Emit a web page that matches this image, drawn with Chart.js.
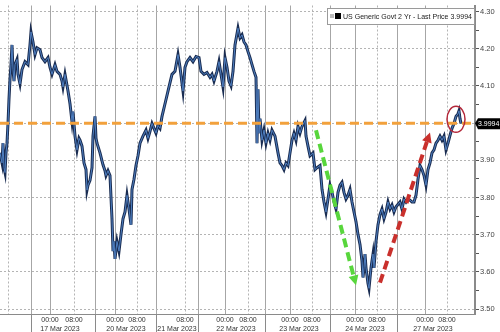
<!DOCTYPE html>
<html>
<head>
<meta charset="utf-8">
<script src="https://cdn.jsdelivr.net/npm/chart.js@4/dist/chart.umd.min.js"></script>
<style>
  html, body { margin: 0; padding: 0; background: #fff; }
</style>
</head>
<body>
<canvas id="chart" width="500" height="332"></canvas>
<script>
// 20-minute bars counted from 17 Mar 2023 00:00 (trading timeline)
const barIdx = [
  -50, -48, -47, -46, -45, -44, -43, -42, -41, -40, -39, -38, -37, -36, -35, -33, -32, -30, -28, -25,
  -22, -20, -19, -17, -15, -13, -10, -8, -5, -2, 0, 2, 5, 7, 10, 12, 13, 15, 18, 20,
  22, 23, 25, 27, 29, 30, 32, 34, 36, 37, 38, 40, 42, 43, 45, 46, 47, 50, 53, 55,
  56, 58, 60, 62, 63, 64, 65, 67, 69, 71, 73, 75, 77, 79, 81, 82, 84, 86, 88, 90,
  93, 96, 98, 100, 102, 104, 106, 108, 110, 112, 115, 118, 122, 125, 128, 130, 133, 135, 137, 140,
  143, 146, 149, 151, 154, 157, 160, 162, 164, 167, 169, 171, 173, 175, 177, 179, 181, 183, 185, 188,
  190, 192, 194, 196, 198, 200, 202, 204, 206, 207, 208, 209, 210, 212, 214, 216, 218, 220, 222, 225,
  228, 230, 232, 234, 236, 238, 240, 242, 244, 246, 248, 250, 252, 255, 256, 258, 260, 263, 265, 267,
  270, 272, 274, 276, 278, 280, 282, 284, 286, 288, 290, 292, 294, 296, 298, 300, 302, 304, 306, 308,
  310, 312, 313, 314, 315, 316, 318, 319, 321, 323, 324, 326, 328, 330, 332, 334, 336, 338, 340, 342,
  344, 346, 350, 352, 354, 356, 358, 360, 362, 364, 366, 368, 370, 372, 374, 376, 378, 380, 382, 384,
  386, 388, 390, 392, 394, 396, 398, 400, 402, 404, 406, 408, 409, 410, 411
];
const yields = [
  3.920, 3.893, 3.946, 3.880, 3.867, 3.920, 3.946, 3.999, 4.065, 4.118, 4.157, 4.210, 4.144, 4.113, 4.157, 4.171, 4.131, 4.105, 4.144, 4.165,
  4.157, 4.210, 4.245, 4.218, 4.184, 4.202, 4.197, 4.176, 4.165, 4.176, 4.150, 4.131, 4.157, 4.139, 4.131, 4.113, 4.097, 4.131, 4.086, 4.052,
  4.004, 4.031, 3.965, 3.928, 3.959, 3.954, 3.938, 3.893, 3.875, 3.820, 3.833, 3.846, 3.880, 3.965, 4.018, 3.959, 3.946, 3.920, 3.888, 3.872,
  3.859, 3.872, 3.859, 3.743, 3.656, 3.682, 3.635, 3.682, 3.656, 3.701, 3.743, 3.761, 3.806, 3.769, 3.727, 3.822, 3.849, 3.886, 3.912, 3.946,
  3.965, 3.981, 3.959, 3.978, 3.999, 3.986, 3.973, 3.994, 3.986, 4.018, 4.052, 4.086, 4.131, 4.139, 4.184, 4.150, 4.086, 4.150, 4.165, 4.176,
  4.165, 4.179, 4.176, 4.139, 4.131, 4.136, 4.123, 4.131, 4.113, 4.139, 4.165, 4.131, 4.097, 4.176, 4.150, 4.113, 4.100, 4.139, 4.210, 4.255,
  4.229, 4.237, 4.218, 4.210, 4.192, 4.176, 4.157, 4.139, 4.123, 3.946, 4.091, 3.973, 4.012, 3.954, 3.981, 3.946, 3.973, 3.954, 3.981, 3.965,
  3.920, 3.893, 3.886, 3.875, 3.893, 3.886, 3.920, 3.954, 3.973, 3.954, 3.991, 3.973, 3.991, 4.007, 3.965, 3.938, 3.912, 3.920, 3.875, 3.880,
  3.886, 3.822, 3.788, 3.761, 3.796, 3.833, 3.814, 3.788, 3.769, 3.814, 3.833, 3.841, 3.814, 3.796, 3.806, 3.822, 3.788, 3.761, 3.735, 3.701,
  3.674, 3.629, 3.585, 3.611, 3.648, 3.611, 3.569, 3.556, 3.611, 3.648, 3.611, 3.682, 3.727, 3.754, 3.769, 3.743, 3.761, 3.788, 3.769, 3.780,
  3.761, 3.775, 3.788, 3.769, 3.796, 3.788, 3.796, 3.793, 3.788, 3.788, 3.806, 3.849, 3.886, 3.875, 3.859, 3.833, 3.875, 3.893, 3.920, 3.928,
  3.946, 3.954, 3.965, 3.954, 3.965, 3.928, 3.946, 3.967, 3.986, 3.999, 4.018, 4.025, 4.033, 4.012, 3.999
];

const lastPrice = 3.9994;
const seriesName = 'US Generic Govt 2 Yr - Last Price 3.9994';

// x axis layout (in bars)
const midnightBars = [0, 65, 175, 240, 305, 375];
const eightBars = [24, 87, 135, 198, 262, 327, 397];
const dottedOnlyBars = [-42];
const sessionBreaks = [-19, 45, 106, 148, 215, 280, 347];
const dayLabelBars = [10, 76, 127, 186, 249, 315, 383];
const dayLabels = ['17 Mar 2023', '20 Mar 2023', '21 Mar 2023', '22 Mar 2023', '23 Mar 2023', '24 Mar 2023', '27 Mar 2023'];

// y axis
const yTicks = [3.50, 3.55, 3.60, 3.65, 3.70, 3.75, 3.80, 3.85, 3.90, 3.95, 4.00, 4.05, 4.10, 4.15, 4.20, 4.25, 4.30];

// annotations: [fromBar, fromYield, toBar, toYield]
const greenArrow = [266, 3.981, 306, 3.564];
const redArrow = [330, 3.571, 380, 3.975];
const circleAt = [406, 4.010];

const isMajor = v => Math.abs(Math.round(v * 10) - v * 10) < 0.01;
const points = barIdx.map((b, i) => ({ x: b, y: yields[i] }));

const notesPlugin = {
  id: 'notes',
  afterDatasetsDraw(chart) {
    const { ctx, scales: { x, y } } = chart;
    [[greenArrow, '#58d63c'], [redArrow, '#c9302c']].forEach(([a, col]) => {
      const x0 = x.getPixelForValue(a[0]), y0 = y.getPixelForValue(a[1]);
      const x1 = x.getPixelForValue(a[2]), y1 = y.getPixelForValue(a[3]);
      const ang = Math.atan2(y1 - y0, x1 - x0);
      const head = 10, half = 5;
      const bx = x1 - head * Math.cos(ang), by = y1 - head * Math.sin(ang);
      ctx.save();
      ctx.strokeStyle = col;
      ctx.fillStyle = col;
      ctx.lineWidth = 4;
      ctx.setLineDash([9, 5]);
      ctx.beginPath();
      ctx.moveTo(x0, y0);
      ctx.lineTo(bx, by);
      ctx.stroke();
      ctx.setLineDash([]);
      ctx.beginPath();
      ctx.moveTo(x1, y1);
      ctx.lineTo(bx + half * Math.sin(ang), by - half * Math.cos(ang));
      ctx.lineTo(bx - half * Math.sin(ang), by + half * Math.cos(ang));
      ctx.closePath();
      ctx.fill();
      ctx.restore();
    });

    // red ring round the last print
    ctx.save();
    ctx.strokeStyle = '#b3283a';
    ctx.lineWidth = 1.5;
    ctx.beginPath();
    ctx.ellipse(x.getPixelForValue(circleAt[0]), y.getPixelForValue(circleAt[1]), 9, 13, 0, 0, Math.PI * 2);
    ctx.stroke();
    ctx.restore();
  },
  afterDraw(chart) {
    const { ctx, chartArea, scales: { x, y } } = chart;
    ctx.save();
    // session separators below the axis
    ctx.strokeStyle = '#8a8a8a';
    ctx.lineWidth = 1;
    sessionBreaks.forEach(b => {
      const px = Math.round(x.getPixelForValue(b)) + 0.5;
      ctx.beginPath();
      ctx.moveTo(px, chartArea.bottom);
      ctx.lineTo(px, chart.height);
      ctx.stroke();
    });

    // last price tag
    const py = y.getPixelForValue(lastPrice);
    ctx.fillStyle = '#000';
    ctx.beginPath();
    ctx.moveTo(chartArea.right, py);
    ctx.lineTo(chartArea.right + 3, py - 5);
    ctx.lineTo(500, py - 5);
    ctx.lineTo(500, py + 6);
    ctx.lineTo(chartArea.right + 3, py + 6);
    ctx.closePath();
    ctx.fill();
    ctx.fillStyle = '#fff';
    ctx.font = '7px "Liberation Sans", Arial, sans-serif';
    ctx.textAlign = 'left';
    ctx.textBaseline = 'middle';
    ctx.fillText(lastPrice.toFixed(4), chartArea.right + 3, py + 0.5, 22);

    // legend box
    ctx.fillStyle = '#fff';
    ctx.fillRect(327.5, 8.5, 147, 16);
    ctx.strokeStyle = '#9a9a9a';
    ctx.strokeRect(327.5, 8.5, 147, 16);
    ctx.fillStyle = '#bbb';
    ctx.fillRect(330, 14, 4, 4);
    ctx.fillStyle = '#000';
    ctx.fillRect(335, 13, 6, 6);
    ctx.fillStyle = '#222';
    ctx.font = '7.5px "Liberation Sans", Arial, sans-serif';
    ctx.fillText(seriesName, 343, 16.5, 129);
    ctx.restore();
  }
};

new Chart(document.getElementById('chart'), {
  type: 'line',
  data: {
    datasets: [
      {
        label: 'Last price',
        data: [{ x: -50, y: lastPrice }, { x: 425, y: lastPrice }],
        borderColor: '#f2a13c',
        borderWidth: 3,
        borderDash: [9, 5],
        pointRadius: 0,
        order: 0
      },
      {
        // lighter core of the bars
        label: 'core',
        data: points,
        borderColor: '#4f7fc0',
        borderWidth: 1,
        pointRadius: 0,
        tension: 0,
        order: 1
      },
      {
        label: seriesName,
        data: points,
        borderColor: '#1a2d52',
        borderWidth: 3,
        pointRadius: 0,
        tension: 0,
        order: 2
      }
    ]
  },
  options: {
    responsive: false,
    animation: false,
    devicePixelRatio: 1,
    layout: { padding: 0 },
    plugins: {
      legend: { display: false },
      tooltip: { enabled: false }
    },
    scales: {
      x: {
        type: 'linear',
        min: -50,
        max: 425,
        afterBuildTicks: scale => {
          scale.ticks = [...sessionBreaks, ...midnightBars, ...eightBars, ...dottedOnlyBars, ...dayLabelBars]
            .sort((a, b) => a - b)
            .map(v => ({ value: v }));
        },
        afterFit: scale => { scale.height = 18; },
        ticks: {
          autoSkip: false,
          maxRotation: 0,
          padding: 2,
          color: '#333',
          font: { family: '"Liberation Sans", Arial, sans-serif', size: 7, lineHeight: 1.25 },
          callback: v => {
            if (midnightBars.includes(v)) return ['00:00', ''];
            if (eightBars.includes(v)) return ['08:00', ''];
            const d = dayLabelBars.indexOf(v);
            if (d >= 0) return ['', dayLabels[d]];
            return '';
          }
        },
        grid: {
          drawTicks: false,
          lineWidth: 1,
          color: ctx => {
            const v = ctx.tick && ctx.tick.value;
            if (dayLabelBars.includes(v)) return 'rgba(0,0,0,0)';
            if (eightBars.includes(v) || dottedOnlyBars.includes(v)) return '#b4b4b4';
            return '#a6a6a6';
          }
        },
        border: {
          display: true,
          color: '#8a8a8a',
          width: 1,
          dash: ctx => {
            const v = ctx.tick && ctx.tick.value;
            return (eightBars.includes(v) || dottedOnlyBars.includes(v)) ? [2, 2] : [];
          }
        }
      },
      y: {
        type: 'linear',
        position: 'right',
        min: 3.487,
        max: 4.316,
        afterBuildTicks: scale => {
          scale.ticks = yTicks.map(v => ({ value: v }));
        },
        afterFit: scale => { scale.width = 25; },
        ticks: {
          padding: 1,
          color: '#444',
          font: { family: '"Liberation Sans", Arial, sans-serif', size: 7.5 },
          callback: v => isMajor(v) ? v.toFixed(2) : ''
        },
        grid: {
          drawTicks: true,
          tickLength: 4,
          tickColor: '#555',
          color: ctx => (ctx.tick && isMajor(ctx.tick.value)) ? '#b4b4b4' : 'rgba(0,0,0,0)'
        },
        border: {
          display: true,
          color: '#8a8a8a',
          width: 2,
          dash: ctx => ctx.tick ? [2, 2] : []
        }
      }
    }
  },
  plugins: [notesPlugin]
});
</script>
</body>
</html>
